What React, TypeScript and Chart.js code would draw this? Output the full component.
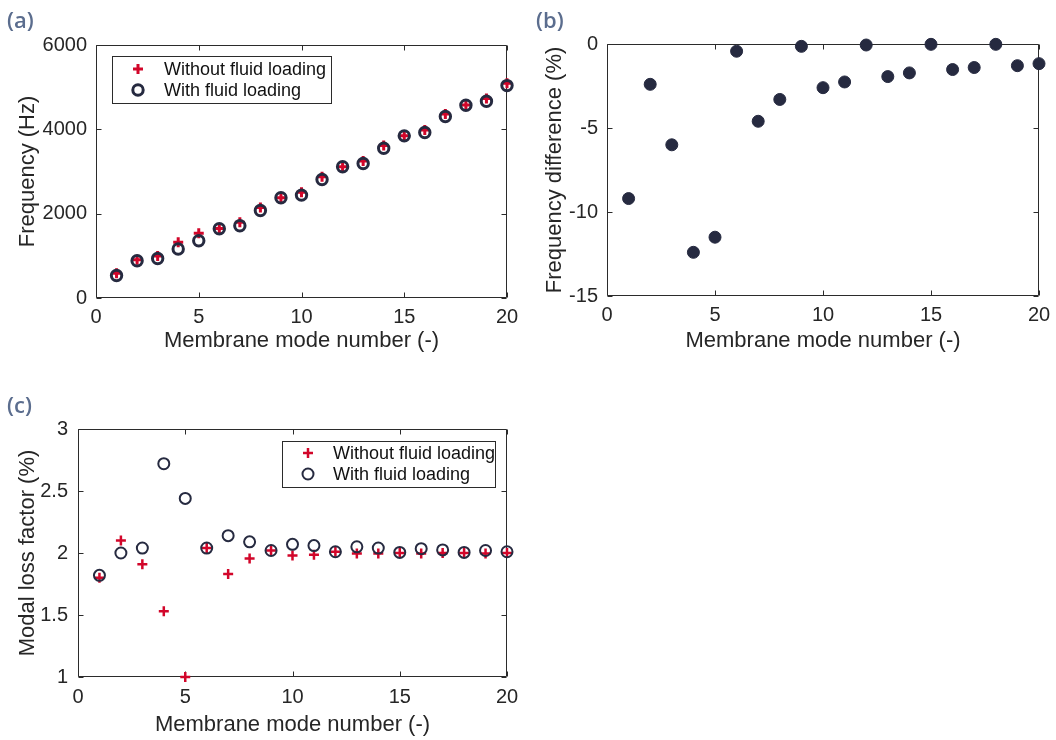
import React, { useEffect, useRef } from "react";
import { Chart, registerables } from "chart.js";

Chart.register(...registerables);

// ---------- data ----------
const modes = [1, 2, 3, 4, 5, 6, 7, 8, 9, 10, 11, 12, 13, 14, 15, 16, 17, 18, 19, 20];
const freqWithout = [585, 905, 995, 1325, 1535, 1650, 1795, 2145, 2380, 2505, 2875, 3115, 3250, 3615, 3845, 3985, 4365, 4575, 4730, 5095];
const freqWith = [535, 884, 938, 1161, 1358, 1642, 1713, 2076, 2377, 2440, 2810, 3111, 3189, 3553, 3845, 3924, 4303, 4572, 4667, 5037];
const freqDiff = [-9.2, -2.4, -6.0, -12.4, -11.5, -0.43, -4.6, -3.3, -0.14, -2.6, -2.26, -0.06, -1.94, -1.72, -0.02, -1.52, -1.4, -0.02, -1.29, -1.17];
const lossWithout = [1.8, 2.1, 1.91, 1.53, 1.0, 2.04, 1.83, 1.955, 2.02, 1.98, 1.985, 2.01, 1.995, 1.995, 2.0, 1.995, 2.0, 2.0, 1.995, 2.0];
const lossWith = [1.82, 2.0, 2.04, 2.72, 2.44, 2.04, 2.14, 2.09, 2.02, 2.07, 2.06, 2.01, 2.05, 2.04, 2.005, 2.035, 2.025, 2.005, 2.02, 2.01];

const modeTicks = [0, 5, 10, 15, 20];
const freqTicks = [0, 2000, 4000, 6000];
const diffTicks = [-15, -10, -5, 0];
const lossTicks = [1, 1.5, 2, 2.5, 3];

const seriesLabels = ["Without fluid loading", "With fluid loading"];
const xTitle = "Membrane mode number (-)";

// ---------- style ----------
const FONT = "'Liberation Sans', Arial, Helvetica, sans-serif";
const TXT = "#262626";
const RED = "#d2062a";
const NAVY = "#262a40";
const TICK_SIZE = 20;
const TITLE_SIZE = 22;

const pts = (ys: number[]) => modes.map((m, i) => ({ x: m, y: ys[i] }));

const framePlugin = {
  id: "frame",
  beforeDatasetsDraw(chart: any) {
    const { ctx, chartArea } = chart;
    const { left, right, top, bottom } = chartArea;
    const sx = chart.scales.x;
    const sy = chart.scales.y;
    const tl = 5;
    ctx.save();
    ctx.strokeStyle = "#2b2b2b";
    ctx.lineWidth = 1;
    ctx.beginPath();
    const L = Math.round(left) + 0.5, R = Math.round(right) - 0.5;
    const T = Math.round(top) + 0.5, B = Math.round(bottom) - 0.5;
    ctx.rect(L, T, R - L, B - T);
    sx.ticks.forEach((t: any) => {
      const px = Math.round(sx.getPixelForValue(t.value)) + 0.5;
      ctx.moveTo(px, B);
      ctx.lineTo(px, B - tl);
      ctx.moveTo(px, T);
      ctx.lineTo(px, T + tl);
    });
    sy.ticks.forEach((t: any) => {
      const py = Math.round(sy.getPixelForValue(t.value)) + 0.5;
      ctx.moveTo(L, py);
      ctx.lineTo(L + tl, py);
      ctx.moveTo(R, py);
      ctx.lineTo(R - tl, py);
    });
    ctx.stroke();
    ctx.restore();
  },
};

function drawMarker(ctx: any, ds: any, x: number, y: number) {
  const r = ds.pointRadius;
  ctx.save();
  ctx.lineWidth = ds.borderWidth;
  ctx.strokeStyle = ds.borderColor;
  ctx.beginPath();
  if (ds.pointStyle === "cross") {
    ctx.moveTo(x - r, y);
    ctx.lineTo(x + r, y);
    ctx.moveTo(x, y - r);
    ctx.lineTo(x, y + r);
    ctx.stroke();
  } else {
    ctx.arc(x, y, r, 0, Math.PI * 2);
    if (ds.backgroundColor && ds.backgroundColor !== "transparent") {
      ctx.fillStyle = ds.backgroundColor;
      ctx.fill();
    }
    ctx.stroke();
  }
  ctx.restore();
}

const boxLegendPlugin = {
  id: "boxLegend",
  afterDatasetsDraw(chart: any, _args: any, opts: any) {
    if (!opts || !opts.show) return;
    const { ctx, chartArea } = chart;
    const bx = chartArea.left + opts.x;
    const by = chartArea.top + opts.y;
    ctx.save();
    ctx.fillStyle = "#ffffff";
    ctx.fillRect(bx, by, opts.w, opts.h);
    ctx.strokeStyle = "#2b2b2b";
    ctx.lineWidth = 1;
    ctx.strokeRect(Math.round(bx) + 0.5, Math.round(by) + 0.5, opts.w, opts.h);
    ctx.font = `18px ${FONT}`;
    ctx.textBaseline = "middle";
    ctx.textAlign = "left";
    opts.order.forEach((di: number, k: number) => {
      const ds = chart.data.datasets[di];
      const y = by + opts.rows[k];
      drawMarker(ctx, ds, bx + opts.mx, y);
      ctx.fillStyle = "#111111";
      ctx.fillText(ds.label, bx + opts.tx, y + 1);
    });
    ctx.restore();
  },
};

function makeX(tickPad: number, titlePad: number, height: number) {
  return {
    type: "linear",
    min: 0,
    max: 20,
    afterBuildTicks: (s: any) => {
      s.ticks = modeTicks.map((v) => ({ value: v }));
    },
    grid: { display: false, drawTicks: false, tickLength: 0 },
    border: { display: false },
    ticks: {
      padding: tickPad,
      color: TXT,
      font: { size: TICK_SIZE, family: FONT },
      maxRotation: 0,
      autoSkip: false,
      callback: (v: any) => String(v),
    },
    title: {
      display: true,
      text: xTitle,
      color: TXT,
      font: { size: TITLE_SIZE, family: FONT },
      padding: { top: 0, bottom: titlePad },
    },
    afterFit: (s: any) => {
      s.height = height;
      s.paddingLeft = 0;
      s.paddingRight = 0;
    },
  };
}

function makeY(min: number, max: number, tickVals: number[], title: string, tickPad: number, titlePad: number, width: number) {
  return {
    type: "linear",
    min,
    max,
    afterBuildTicks: (s: any) => {
      s.ticks = tickVals.map((v) => ({ value: v }));
    },
    grid: { display: false, drawTicks: false, tickLength: 0 },
    border: { display: false },
    ticks: {
      padding: tickPad,
      color: TXT,
      font: { size: TICK_SIZE, family: FONT },
      autoSkip: false,
      callback: (v: any) => String(v),
    },
    title: {
      display: true,
      text: title,
      color: TXT,
      font: { size: TITLE_SIZE, family: FONT },
      padding: { top: titlePad, bottom: 0 },
    },
    afterFit: (s: any) => {
      s.width = width;
      s.paddingTop = 0;
      s.paddingBottom = 0;
    },
  };
}

function baseOptions(padding: any, x: any, y: any, legend: any) {
  return {
    responsive: false,
    animation: false,
    events: [],
    layout: { padding },
    scales: { x, y },
    plugins: {
      legend: { display: false },
      tooltip: { enabled: false },
      boxLegend: legend,
    },
  };
}

const configA = () => ({
  type: "scatter",
  data: {
    datasets: [
      {
        label: seriesLabels[1],
        data: pts(freqWith),
        pointStyle: "circle",
        pointRadius: 5.2,
        borderWidth: 3,
        borderColor: NAVY,
        backgroundColor: "transparent",
        clip: false,
      },
      {
        label: seriesLabels[0],
        data: pts(freqWithout),
        pointStyle: "cross",
        pointRadius: 5,
        borderWidth: 3,
        borderColor: RED,
        backgroundColor: RED,
        clip: false,
      },
    ],
  },
  options: baseOptions(
    { left: 0, top: 45, right: 21, bottom: 0 },
    makeX(7, 6, 62),
    makeY(0, 6000, freqTicks, "Frequency (Hz)", 9, 15, 96),
    { show: true, x: 16, y: 11, w: 219, h: 47, mx: 26, tx: 52, rows: [13, 34], order: [1, 0] }
  ),
  plugins: [framePlugin, boxLegendPlugin],
});

const configB = () => ({
  type: "scatter",
  data: {
    datasets: [
      {
        label: "Frequency difference",
        data: pts(freqDiff),
        pointStyle: "circle",
        pointRadius: 6,
        borderWidth: 1,
        borderColor: NAVY,
        backgroundColor: NAVY,
        clip: false,
      },
    ],
  },
  options: baseOptions(
    { left: 0, top: 44, right: 17, bottom: 0 },
    makeX(7, 6, 64),
    makeY(-15, 0, diffTicks, "Frequency difference (%)", 9, 14, 79),
    { show: false }
  ),
  plugins: [framePlugin, boxLegendPlugin],
});

const configC = () => ({
  type: "scatter",
  data: {
    datasets: [
      {
        label: seriesLabels[1],
        data: pts(lossWith),
        pointStyle: "circle",
        pointRadius: 5.5,
        borderWidth: 2,
        borderColor: NAVY,
        backgroundColor: "transparent",
        clip: false,
      },
      {
        label: seriesLabels[0],
        data: pts(lossWithout),
        pointStyle: "cross",
        pointRadius: 5,
        borderWidth: 2.5,
        borderColor: RED,
        backgroundColor: RED,
        clip: false,
      },
    ],
  },
  options: baseOptions(
    { left: 0, top: 49, right: 21, bottom: 0 },
    makeX(8, 2, 63),
    makeY(1, 3, lossTicks, "Modal loss factor (%)", 10, 15, 78),
    { show: true, x: 204, y: 12, w: 213, h: 46, mx: 26, tx: 51, rows: [12, 33], order: [1, 0] }
  ),
  plugins: [framePlugin, boxLegendPlugin],
});

function Panel(props: { make: () => any; left: number; top: number; width: number; height: number }) {
  const ref = useRef<HTMLCanvasElement | null>(null);
  useEffect(() => {
    let chart: any = null;
    let cancelled = false;
    const create = () => {
      if (cancelled || !ref.current) return;
      chart = new Chart(ref.current, props.make());
    };
    const fontsApi: any = (document as any).fonts;
    if (fontsApi && fontsApi.load) {
      Promise.all([
        fontsApi.load(`${TICK_SIZE}px "Liberation Sans"`),
        fontsApi.load(`${TITLE_SIZE}px "Liberation Sans"`),
        fontsApi.load(`18px "Liberation Sans"`),
      ])
        .catch(() => null)
        .then(create);
    } else {
      create();
    }
    return () => {
      cancelled = true;
      if (chart) chart.destroy();
    };
  }, []);
  return (
    <canvas
      ref={ref}
      width={props.width}
      height={props.height}
      style={{ position: "absolute", left: props.left, top: props.top, width: props.width, height: props.height, display: "block" }}
    />
  );
}

const labelStyle = (left: number, top: number): React.CSSProperties => ({
  position: "absolute",
  left,
  top,
  fontFamily: "'Open Sans', 'Noto Sans', sans-serif",
  fontWeight: 600,
  fontSize: 22,
  lineHeight: "24px",
  color: "#5b6d8e",
});

export default function App() {
  return (
    <div style={{ position: "absolute", left: 0, top: 0, width: 1056, height: 740, background: "#ffffff", overflow: "hidden" }}>
      <Panel make={configA} left={0} top={0} width={528} height={360} />
      <Panel make={configB} left={528} top={0} width={528} height={360} />
      <Panel make={configC} left={0} top={380} width={528} height={360} />
      <div style={labelStyle(7, 7)}>(a)</div>
      <div style={labelStyle(536, 7)}>(b)</div>
      <div style={labelStyle(7, 392)}>(c)</div>
    </div>
  );
}
